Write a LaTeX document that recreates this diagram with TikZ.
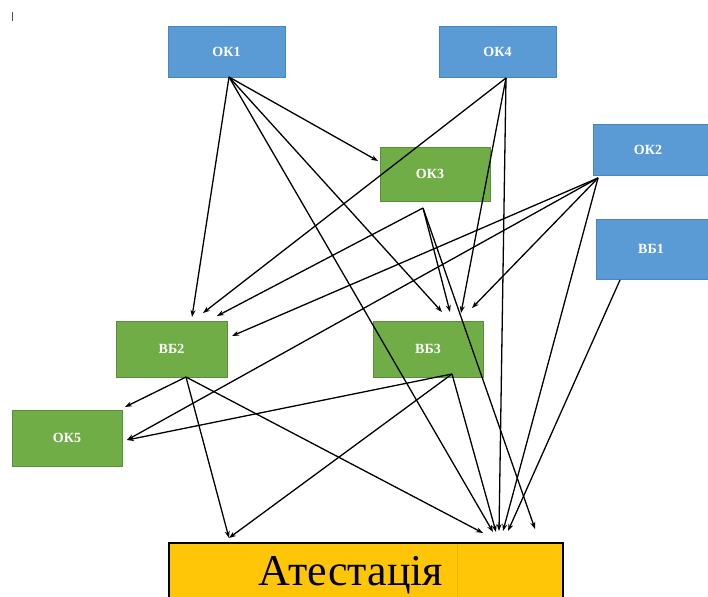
\documentclass[tikz,border=0pt]{standalone}
\usepackage{fontspec}
\setmainfont{Liberation Serif}
\usetikzlibrary{calc,arrows.meta}
\definecolor{okblue}{HTML}{5B9BD5}
\definecolor{okblueb}{HTML}{4A85BC}
\definecolor{okgreen}{HTML}{70AD47}
\definecolor{okgreenb}{HTML}{5A8F38}
\definecolor{attyel}{HTML}{FFC608}
\definecolor{attline}{HTML}{E8B200}
\tikzset{
  box/.style={rectangle, anchor=north west, outer sep=0pt, inner sep=0pt, line width=0.9pt,
    text=white, font=\fontsize{14}{14}\selectfont\bfseries},
  bluebox/.style={box, fill=okblue, draw=okblueb},
  greenbox/.style={box, fill=okgreen, draw=okgreenb},
  conn/.style={line width=1.3pt, black, -{Stealth[length=7pt,width=5pt]}},
}
\begin{document}
\begin{tikzpicture}[x=1pt,y=-1pt]
\useasboundingbox (0,0) rectangle (708,596);
\clip (0,0) rectangle (708,596);
\fill[white] (0,0) rectangle (708,596);
% small mark top-left
\draw[line width=1.1pt, black!70] (12.5,12) -- (12.5,21);
% nodes
\node[bluebox, minimum width=117pt, minimum height=51pt] (ok1) at (168,26) {ОК1};
\node[bluebox, minimum width=117pt, minimum height=51pt] (ok4) at (439,26) {ОК4};
\node[greenbox, minimum width=110pt, minimum height=54pt] (ok3) at (380,147) {\hspace*{-10pt}ОК3};
\node[bluebox, minimum width=116pt, minimum height=51pt] (ok2) at (593,124) {\hspace*{-6pt}ОК2};
\node[bluebox, minimum width=114pt, minimum height=60pt] (be1) at (596,219) {\hspace*{-4pt}ВБ1};
\node[greenbox, minimum width=111pt, minimum height=56pt] (be2) at (116,321) {ВБ2};
\node[greenbox, minimum width=110pt, minimum height=56pt] (be3) at (373,321) {ВБ3};
\node[greenbox, minimum width=110pt, minimum height=56pt] (ok5) at (12,410) {ОК5};
\node[rectangle, anchor=north west, outer sep=0pt, inner sep=0pt, minimum width=394pt, minimum height=60pt,
  fill=attyel, draw=black, line width=1.4pt] (att) at (169,543) {};
\draw[attline, line width=0.6pt] ($(att.north west)+(288,1)$) -- ($(att.north west)+(288,60)$);
\node[anchor=base, inner sep=0pt, font=\fontsize{44}{44}\selectfont] (attlabel) at (351,585) {Атестація};
% source points
\coordinate (sOK1) at ($(ok1.south)+(2.5,0)$);
\coordinate (sOK4) at ($(ok4.south)+(8.5,1)$);
\coordinate (sOK3) at ($(ok3.south)+(-12,7)$);
\coordinate (sOK2) at ($(ok2.south west)+(5,3)$);
\coordinate (sBE1) at ($(be1.south west)+(24,1)$);
\coordinate (sBE2) at ($(be2.south)+(14.5,0)$);
\coordinate (sBE3) at ($(be3.south)+(24,-3)$);
% target points
\coordinate (tBE2a) at ($(be2.north)+(20.5,-4)$);
\coordinate (tBE2b) at ($(be2.north)+(31.5,-8)$);
\coordinate (tBE2c) at ($(be2.north)+(45.5,-5)$);
\coordinate (tBE2d) at ($(be2.east)+(5,-13)$);
\coordinate (tOK3) at ($(ok3.west)+(-2,-13)$);
\coordinate (tBE3a) at ($(be3.north)+(14,-9)$);
\coordinate (tBE3b) at ($(be3.north)+(22,-9)$);
\coordinate (tBE3c) at ($(be3.north)+(33,-8)$);
\coordinate (tBE3d) at ($(be3.north)+(44,-13)$);
\coordinate (tOK5a) at ($(ok5.north east)+(3,-3)$);
\coordinate (tOK5b) at ($(ok5.east)+(5,2)$);
\coordinate (tAtt1) at ($(att.north west)+(60,-5)$);
\coordinate (tAtt2) at ($(att.north west)+(314,-10)$);
\coordinate (tAtt3) at ($(att.north west)+(324,-11)$);
\coordinate (tAtt4) at ($(att.north west)+(327,-11)$);
\coordinate (tAtt5) at ($(att.north west)+(330,-12)$);
\coordinate (tAtt6) at ($(att.north west)+(334,-12)$);
\coordinate (tAtt7) at ($(att.north west)+(339,-12)$);
\coordinate (tAtt8) at ($(att.north west)+(366,-14)$);
% connectors
\draw[conn] (sOK1) -- (tBE2a);
\draw[conn] (sOK1) -- (tOK3);
\draw[conn] (sOK1) -- (tBE3a);
\draw[conn] (sOK1) -- (tAtt3);
\draw[conn] (sOK4) -- (tBE2b);
\draw[conn] (sOK4) -- (tBE3c);
\draw[conn] (sOK4) -- (tAtt5);
\draw[conn] (sOK3) -- (tBE2c);
\draw[conn] (sOK3) -- (tBE3b);
\draw[conn] (sOK3) -- (tAtt8);
\draw[conn] (sOK2) -- (tBE2d);
\draw[conn] (sOK2) -- (tOK5b);
\draw[conn] (sOK2) -- (tBE3d);
\draw[conn] (sOK2) -- (tAtt6);
\draw[conn] (sBE1) -- (tAtt7);
\draw[conn] (sBE2) -- (tOK5a);
\draw[conn] (sBE2) -- (tAtt1);
\draw[conn] (sBE2) -- (tAtt2);
\draw[conn] (sBE3) -- (tOK5b);
\draw[conn] (sBE3) -- (tAtt1);
\draw[conn] (sBE3) -- (tAtt4);
\end{tikzpicture}
\end{document}
